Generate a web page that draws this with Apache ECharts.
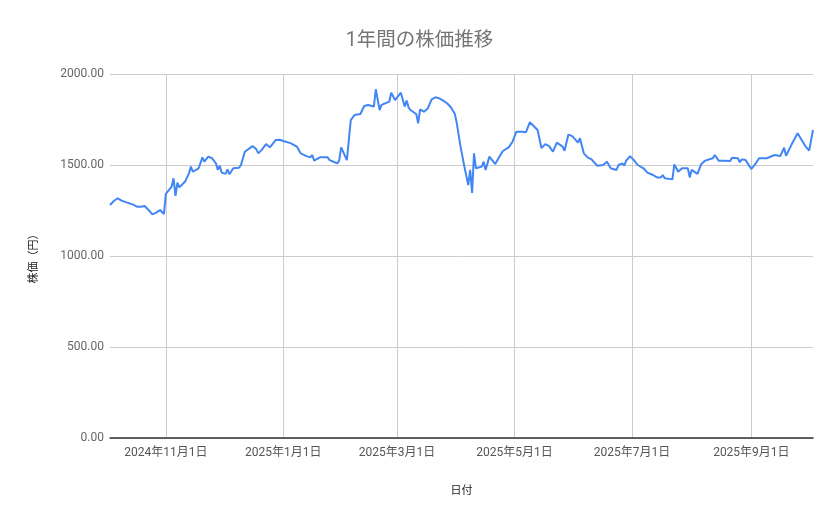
<!DOCTYPE html>
<html>
<head>
<meta charset="utf-8">
<script src="https://cdn.jsdelivr.net/npm/echarts@6/dist/echarts.min.js"></script>
<style>
  html, body { margin: 0; padding: 0; background: #fff; }
  #main { width: 839px; height: 519px; }
</style>
</head>
<body>
<div id="main"></div>
<script>
// 日付
var dates = [
    '2024-10-03', '2024-10-05', '2024-10-07', '2024-10-09', '2024-10-10', '2024-10-12',
    '2024-10-15', '2024-10-17', '2024-10-19', '2024-10-21', '2024-10-23', '2024-10-25',
    '2024-10-27', '2024-10-29', '2024-10-30', '2024-10-31', '2024-11-01', '2024-11-04',
    '2024-11-05', '2024-11-06', '2024-11-07', '2024-11-08', '2024-11-11', '2024-11-13',
    '2024-11-14', '2024-11-15', '2024-11-18', '2024-11-20', '2024-11-21', '2024-11-23',
    '2024-11-25', '2024-11-27', '2024-11-28', '2024-11-29', '2024-11-30', '2024-12-02',
    '2024-12-03', '2024-12-04', '2024-12-06', '2024-12-09', '2024-12-10', '2024-12-12',
    '2024-12-13', '2024-12-16', '2024-12-18', '2024-12-19', '2024-12-21', '2024-12-23',
    '2024-12-25', '2024-12-28', '2024-12-30', '2025-01-01', '2025-01-05', '2025-01-08',
    '2025-01-10', '2025-01-13', '2025-01-15', '2025-01-16', '2025-01-17', '2025-01-20',
    '2025-01-24', '2025-01-25', '2025-01-27', '2025-01-29', '2025-01-30', '2025-01-31',
    '2025-02-03', '2025-02-04', '2025-02-05', '2025-02-07', '2025-02-10', '2025-02-12',
    '2025-02-14', '2025-02-17', '2025-02-18', '2025-02-20', '2025-02-21', '2025-02-25',
    '2025-02-26', '2025-02-27', '2025-02-28', '2025-03-03', '2025-03-05', '2025-03-06',
    '2025-03-07', '2025-03-08', '2025-03-11', '2025-03-12', '2025-03-13', '2025-03-15',
    '2025-03-17', '2025-03-19', '2025-03-21', '2025-03-23', '2025-03-25', '2025-03-26',
    '2025-03-27', '2025-03-29', '2025-03-31', '2025-04-01', '2025-04-02', '2025-04-03',
    '2025-04-05', '2025-04-07', '2025-04-08', '2025-04-09', '2025-04-10', '2025-04-11',
    '2025-04-14', '2025-04-15', '2025-04-16', '2025-04-18', '2025-04-21', '2025-04-23',
    '2025-04-25', '2025-04-28', '2025-04-30', '2025-05-02', '2025-05-05', '2025-05-07',
    '2025-05-09', '2025-05-13', '2025-05-15', '2025-05-17', '2025-05-19', '2025-05-21',
    '2025-05-23', '2025-05-26', '2025-05-27', '2025-05-29', '2025-05-31', '2025-06-03',
    '2025-06-04', '2025-06-06', '2025-06-08', '2025-06-10', '2025-06-11', '2025-06-13',
    '2025-06-16', '2025-06-17', '2025-06-18', '2025-06-20', '2025-06-23', '2025-06-24',
    '2025-06-26', '2025-06-27', '2025-06-28', '2025-06-30', '2025-07-02', '2025-07-04',
    '2025-07-07', '2025-07-09', '2025-07-12', '2025-07-14', '2025-07-16', '2025-07-17',
    '2025-07-18', '2025-07-22', '2025-07-23', '2025-07-25', '2025-07-27', '2025-07-28',
    '2025-07-30', '2025-07-31', '2025-08-01', '2025-08-04', '2025-08-06', '2025-08-08',
    '2025-08-12', '2025-08-13', '2025-08-15', '2025-08-18', '2025-08-21', '2025-08-22',
    '2025-08-25', '2025-08-26', '2025-08-27', '2025-08-29', '2025-09-01', '2025-09-03',
    '2025-09-04', '2025-09-05', '2025-09-09', '2025-09-10', '2025-09-13', '2025-09-16',
    '2025-09-18', '2025-09-19', '2025-09-22', '2025-09-25', '2025-09-26', '2025-09-29',
    '2025-09-30', '2025-10-01', '2025-10-02', '2025-10-03'
];

// 株価（円）
var prices = [
    1280, 1302, 1317, 1304, 1304, 1293,
    1282, 1271, 1271, 1275, 1253, 1229,
    1238, 1253, 1245, 1231, 1341, 1381,
    1427, 1330, 1403, 1377, 1409, 1454,
    1491, 1463, 1482, 1542, 1518, 1546,
    1537, 1509, 1473, 1496, 1458, 1451,
    1476, 1449, 1482, 1485, 1500, 1573,
    1577, 1604, 1586, 1564, 1586, 1615,
    1597, 1637, 1639, 1632, 1619, 1601,
    1564, 1549, 1542, 1555, 1524, 1542,
    1542, 1527, 1518, 1509, 1524, 1597,
    1527, 1524, 1747, 1775, 1780, 1824,
    1830, 1821, 1916, 1802, 1830, 1848,
    1897, 1894, 1857, 1897, 1821, 1854,
    1817, 1802, 1780, 1729, 1806, 1793,
    1811, 1861, 1872, 1866, 1854, 1861,
    1839, 1817, 1782, 1733, 1739, 1601,
    1491, 1390, 1473, 1346, 1564, 1482,
    1491, 1518, 1473, 1546, 1505, 1542,
    1577, 1597, 1628, 1683, 1683, 1680,
    1735, 1692, 1593, 1615, 1604, 1573,
    1623, 1601, 1578, 1667, 1659, 1623,
    1647, 1564, 1542, 1531, 1537, 1496,
    1500, 1495, 1518, 1482, 1473, 1500,
    1509, 1496, 1524, 1549, 1527, 1500,
    1482, 1458, 1445, 1432, 1432, 1445,
    1427, 1421, 1503, 1463, 1482, 1487,
    1482, 1432, 1473, 1451, 1505, 1524,
    1537, 1555, 1524, 1524, 1522, 1540,
    1537, 1515, 1531, 1527, 1478, 1505,
    1500, 1537, 1537, 1527, 1555, 1549,
    1595, 1551, 1615, 1674, 1665, 1604,
    1601, 1579, 1582, 1692
];

// x軸の目盛り（2か月ごと）
var tickDates = ['2024-11-01', '2025-01-01', '2025-03-01', '2025-05-01', '2025-07-01', '2025-09-01'];

var myChart = echarts.init(document.getElementById('main'));

// 日付文字列 → タイムスタンプ
function toTime(s) {
    var p = s.split('-');
    return new Date(+p[0], +p[1] - 1, +p[2]).getTime();
}

var seriesData = [];
for (var i = 0; i < dates.length; i++) {
    seriesData.push([toTime(dates[i]), prices[i]]);
}

var tickValues = tickDates.map(toTime);

var option = {
    animation: false,
    textStyle: { fontFamily: 'Roboto, "Noto Sans CJK JP", sans-serif' },
    title: {
        text: '1年間の株価推移',
        left: 'center',
        top: 26,
        textStyle: { fontSize: 19.5, fontWeight: 'normal', color: '#757575' }
    },
    grid: { left: 110, right: 26, top: 74, bottom: 81 },
    xAxis: {
        type: 'value',
        min: toTime('2024-10-03'),
        max: toTime('2025-10-03'),
        name: '日付',
        nameLocation: 'middle',
        nameGap: 48,
        nameTextStyle: { color: '#222', fontSize: 11 },
        axisLine: { lineStyle: { color: '#333', width: 1.5 } },
        axisTick: { show: false, customValues: tickValues },
        axisLabel: {
            customValues: tickValues,
            color: '#555',
            fontSize: 12,
            margin: 9,
            formatter: function (v) {
                var d = new Date(v);
                return d.getFullYear() + '年' + (d.getMonth() + 1) + '月' + d.getDate() + '日';
            }
        },
        splitLine: { show: true, lineStyle: { color: '#cccccc' } }
    },
    yAxis: {
        type: 'value',
        min: 0,
        max: 2000,
        interval: 500,
        name: '株価（円）',
        nameLocation: 'middle',
        nameGap: 70,
        nameTextStyle: { color: '#222', fontSize: 11 },
        axisLine: { show: false },
        axisTick: { show: false },
        axisLabel: {
            color: '#666',
            fontSize: 12,
            margin: 6,
            formatter: function (v) { return v.toFixed(2); }
        },
        splitLine: { lineStyle: { color: '#cccccc' } }
    },
    series: [{
        type: 'line',
        data: seriesData,
        showSymbol: false,
        lineStyle: { color: '#4285f4', width: 2 },
        itemStyle: { color: '#4285f4' }
    }]
};

myChart.setOption(option);
</script>
</body>
</html>
